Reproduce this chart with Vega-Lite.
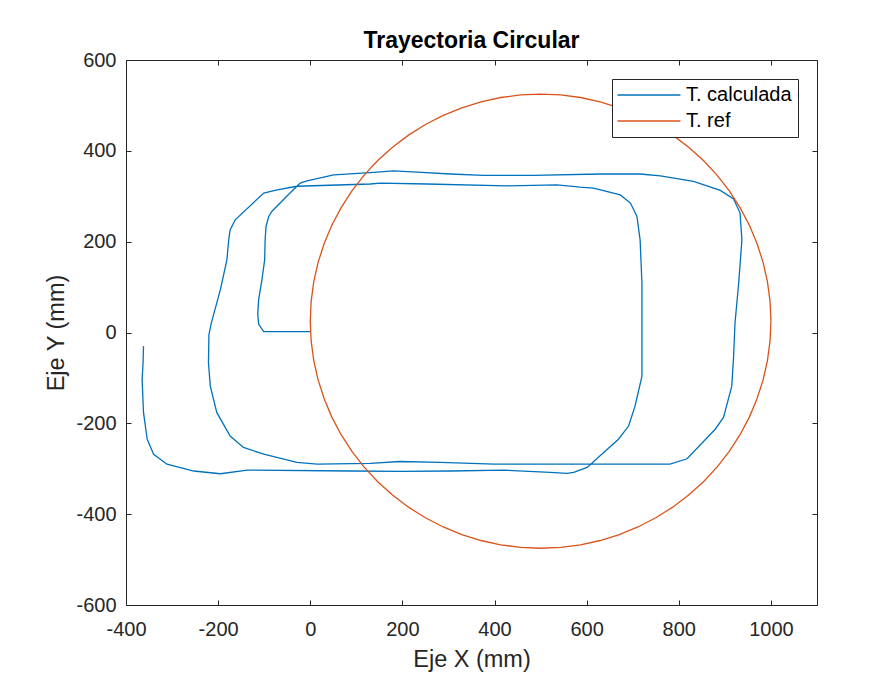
{
  "$schema": "https://vega.github.io/schema/vega-lite/v6.json",
  "width": 691,
  "height": 545,
  "autosize": {"type": "none"},
  "padding": {"left": 126, "top": 60, "right": 77, "bottom": 69},
  "background": "white",
  "title": {"text": "Trayectoria Circular", "fontSize": 23, "fontWeight": "bold", "color": "#000000", "offset": -3, "anchor": "middle", "font": "Liberation Sans"},
  "data": {"values": [
    {"s":"T. calculada","i":0,"x":0,"y":2},
    {"s":"T. calculada","i":1,"x":-101,"y":2},
    {"s":"T. calculada","i":2,"x":-112,"y":18},
    {"s":"T. calculada","i":3,"x":-114,"y":40},
    {"s":"T. calculada","i":4,"x":-112,"y":73},
    {"s":"T. calculada","i":5,"x":-105,"y":116},
    {"s":"T. calculada","i":6,"x":-99,"y":160},
    {"s":"T. calculada","i":7,"x":-98,"y":204},
    {"s":"T. calculada","i":8,"x":-96,"y":234},
    {"s":"T. calculada","i":9,"x":-90,"y":256},
    {"s":"T. calculada","i":10,"x":-83,"y":267},
    {"s":"T. calculada","i":11,"x":-51,"y":300},
    {"s":"T. calculada","i":12,"x":-22,"y":329},
    {"s":"T. calculada","i":13,"x":-7,"y":334},
    {"s":"T. calculada","i":14,"x":51,"y":347},
    {"s":"T. calculada","i":15,"x":130,"y":352},
    {"s":"T. calculada","i":16,"x":181,"y":356},
    {"s":"T. calculada","i":17,"x":232,"y":353},
    {"s":"T. calculada","i":18,"x":304,"y":349},
    {"s":"T. calculada","i":19,"x":376,"y":346},
    {"s":"T. calculada","i":20,"x":485,"y":346},
    {"s":"T. calculada","i":21,"x":629,"y":349},
    {"s":"T. calculada","i":22,"x":716,"y":349},
    {"s":"T. calculada","i":23,"x":760,"y":345},
    {"s":"T. calculada","i":24,"x":832,"y":333},
    {"s":"T. calculada","i":25,"x":890,"y":313},
    {"s":"T. calculada","i":26,"x":919,"y":294},
    {"s":"T. calculada","i":27,"x":933,"y":263},
    {"s":"T. calculada","i":28,"x":937,"y":204},
    {"s":"T. calculada","i":29,"x":930,"y":109},
    {"s":"T. calculada","i":30,"x":922,"y":21},
    {"s":"T. calculada","i":31,"x":919,"y":-52},
    {"s":"T. calculada","i":32,"x":915,"y":-118},
    {"s":"T. calculada","i":33,"x":897,"y":-187},
    {"s":"T. calculada","i":34,"x":879,"y":-213},
    {"s":"T. calculada","i":35,"x":818,"y":-278},
    {"s":"T. calculada","i":36,"x":781,"y":-290},
    {"s":"T. calculada","i":37,"x":543,"y":-290},
    {"s":"T. calculada","i":38,"x":400,"y":-290},
    {"s":"T. calculada","i":39,"x":282,"y":-286},
    {"s":"T. calculada","i":40,"x":195,"y":-284},
    {"s":"T. calculada","i":41,"x":130,"y":-288},
    {"s":"T. calculada","i":42,"x":15,"y":-290},
    {"s":"T. calculada","i":43,"x":-29,"y":-286},
    {"s":"T. calculada","i":44,"x":-101,"y":-268},
    {"s":"T. calculada","i":45,"x":-145,"y":-253},
    {"s":"T. calculada","i":46,"x":-174,"y":-228},
    {"s":"T. calculada","i":47,"x":-203,"y":-176},
    {"s":"T. calculada","i":48,"x":-217,"y":-118},
    {"s":"T. calculada","i":49,"x":-221,"y":-67},
    {"s":"T. calculada","i":50,"x":-220,"y":-5},
    {"s":"T. calculada","i":51,"x":-215,"y":20},
    {"s":"T. calculada","i":52,"x":-195,"y":95},
    {"s":"T. calculada","i":53,"x":-181,"y":160},
    {"s":"T. calculada","i":54,"x":-177,"y":204},
    {"s":"T. calculada","i":55,"x":-174,"y":226},
    {"s":"T. calculada","i":56,"x":-163,"y":248},
    {"s":"T. calculada","i":57,"x":-101,"y":307},
    {"s":"T. calculada","i":58,"x":-72,"y":314},
    {"s":"T. calculada","i":59,"x":-29,"y":322},
    {"s":"T. calculada","i":60,"x":130,"y":327},
    {"s":"T. calculada","i":61,"x":152,"y":329},
    {"s":"T. calculada","i":62,"x":253,"y":327},
    {"s":"T. calculada","i":63,"x":427,"y":323},
    {"s":"T. calculada","i":64,"x":535,"y":325},
    {"s":"T. calculada","i":65,"x":586,"y":320},
    {"s":"T. calculada","i":66,"x":615,"y":318},
    {"s":"T. calculada","i":67,"x":673,"y":303},
    {"s":"T. calculada","i":68,"x":695,"y":285},
    {"s":"T. calculada","i":69,"x":709,"y":256},
    {"s":"T. calculada","i":70,"x":716,"y":204},
    {"s":"T. calculada","i":71,"x":720,"y":109},
    {"s":"T. calculada","i":72,"x":720,"y":-37},
    {"s":"T. calculada","i":73,"x":720,"y":-96},
    {"s":"T. calculada","i":74,"x":705,"y":-162},
    {"s":"T. calculada","i":75,"x":691,"y":-206},
    {"s":"T. calculada","i":76,"x":669,"y":-235},
    {"s":"T. calculada","i":77,"x":637,"y":-264},
    {"s":"T. calculada","i":78,"x":601,"y":-297},
    {"s":"T. calculada","i":79,"x":572,"y":-308},
    {"s":"T. calculada","i":80,"x":557,"y":-310},
    {"s":"T. calculada","i":81,"x":521,"y":-308},
    {"s":"T. calculada","i":82,"x":420,"y":-303},
    {"s":"T. calculada","i":83,"x":304,"y":-305},
    {"s":"T. calculada","i":84,"x":195,"y":-306},
    {"s":"T. calculada","i":85,"x":87,"y":-305},
    {"s":"T. calculada","i":86,"x":-137,"y":-303},
    {"s":"T. calculada","i":87,"x":-195,"y":-311},
    {"s":"T. calculada","i":88,"x":-253,"y":-305},
    {"s":"T. calculada","i":89,"x":-311,"y":-290},
    {"s":"T. calculada","i":90,"x":-340,"y":-268},
    {"s":"T. calculada","i":91,"x":-354,"y":-235},
    {"s":"T. calculada","i":92,"x":-362,"y":-176},
    {"s":"T. calculada","i":93,"x":-365,"y":-103},
    {"s":"T. calculada","i":94,"x":-363,"y":-67},
    {"s":"T. calculada","i":95,"x":-362,"y":-30},
    {"s":"T. ref","i":0,"x":1000,"y":25},
    {"s":"T. ref","i":1,"x":998.1,"y":68.6},
    {"s":"T. ref","i":2,"x":992.4,"y":111.8},
    {"s":"T. ref","i":3,"x":983.0,"y":154.4},
    {"s":"T. ref","i":4,"x":969.8,"y":196.0},
    {"s":"T. ref","i":5,"x":953.2,"y":236.3},
    {"s":"T. ref","i":6,"x":933.0,"y":275.0},
    {"s":"T. ref","i":7,"x":909.6,"y":311.8},
    {"s":"T. ref","i":8,"x":883.0,"y":346.4},
    {"s":"T. ref","i":9,"x":853.6,"y":378.6},
    {"s":"T. ref","i":10,"x":821.4,"y":408.0},
    {"s":"T. ref","i":11,"x":786.8,"y":434.6},
    {"s":"T. ref","i":12,"x":750,"y":458.0},
    {"s":"T. ref","i":13,"x":711.3,"y":478.2},
    {"s":"T. ref","i":14,"x":671.0,"y":494.8},
    {"s":"T. ref","i":15,"x":629.4,"y":508.0},
    {"s":"T. ref","i":16,"x":586.8,"y":517.4},
    {"s":"T. ref","i":17,"x":543.6,"y":523.1},
    {"s":"T. ref","i":18,"x":500,"y":525},
    {"s":"T. ref","i":19,"x":456.4,"y":523.1},
    {"s":"T. ref","i":20,"x":413.2,"y":517.4},
    {"s":"T. ref","i":21,"x":370.6,"y":508.0},
    {"s":"T. ref","i":22,"x":329.0,"y":494.8},
    {"s":"T. ref","i":23,"x":288.7,"y":478.2},
    {"s":"T. ref","i":24,"x":250,"y":458.0},
    {"s":"T. ref","i":25,"x":213.2,"y":434.6},
    {"s":"T. ref","i":26,"x":178.6,"y":408.0},
    {"s":"T. ref","i":27,"x":146.4,"y":378.6},
    {"s":"T. ref","i":28,"x":117.0,"y":346.4},
    {"s":"T. ref","i":29,"x":90.4,"y":311.8},
    {"s":"T. ref","i":30,"x":67.0,"y":275.0},
    {"s":"T. ref","i":31,"x":46.8,"y":236.3},
    {"s":"T. ref","i":32,"x":30.2,"y":196.0},
    {"s":"T. ref","i":33,"x":17.0,"y":154.4},
    {"s":"T. ref","i":34,"x":7.6,"y":111.8},
    {"s":"T. ref","i":35,"x":1.9,"y":68.6},
    {"s":"T. ref","i":36,"x":0,"y":25},
    {"s":"T. ref","i":37,"x":1.9,"y":-18.6},
    {"s":"T. ref","i":38,"x":7.6,"y":-61.8},
    {"s":"T. ref","i":39,"x":17.0,"y":-104.4},
    {"s":"T. ref","i":40,"x":30.2,"y":-146.0},
    {"s":"T. ref","i":41,"x":46.8,"y":-186.3},
    {"s":"T. ref","i":42,"x":67.0,"y":-225.0},
    {"s":"T. ref","i":43,"x":90.4,"y":-261.8},
    {"s":"T. ref","i":44,"x":117.0,"y":-296.4},
    {"s":"T. ref","i":45,"x":146.4,"y":-328.6},
    {"s":"T. ref","i":46,"x":178.6,"y":-358.0},
    {"s":"T. ref","i":47,"x":213.2,"y":-384.6},
    {"s":"T. ref","i":48,"x":250,"y":-408.0},
    {"s":"T. ref","i":49,"x":288.7,"y":-428.2},
    {"s":"T. ref","i":50,"x":329.0,"y":-444.8},
    {"s":"T. ref","i":51,"x":370.6,"y":-458.0},
    {"s":"T. ref","i":52,"x":413.2,"y":-467.4},
    {"s":"T. ref","i":53,"x":456.4,"y":-473.1},
    {"s":"T. ref","i":54,"x":500,"y":-475},
    {"s":"T. ref","i":55,"x":543.6,"y":-473.1},
    {"s":"T. ref","i":56,"x":586.8,"y":-467.4},
    {"s":"T. ref","i":57,"x":629.4,"y":-458.0},
    {"s":"T. ref","i":58,"x":671.0,"y":-444.8},
    {"s":"T. ref","i":59,"x":711.3,"y":-428.2},
    {"s":"T. ref","i":60,"x":750,"y":-408.0},
    {"s":"T. ref","i":61,"x":786.8,"y":-384.6},
    {"s":"T. ref","i":62,"x":821.4,"y":-358.0},
    {"s":"T. ref","i":63,"x":853.6,"y":-328.6},
    {"s":"T. ref","i":64,"x":883.0,"y":-296.4},
    {"s":"T. ref","i":65,"x":909.6,"y":-261.8},
    {"s":"T. ref","i":66,"x":933.0,"y":-225.0},
    {"s":"T. ref","i":67,"x":953.2,"y":-186.3},
    {"s":"T. ref","i":68,"x":969.8,"y":-146.0},
    {"s":"T. ref","i":69,"x":983.0,"y":-104.4},
    {"s":"T. ref","i":70,"x":992.4,"y":-61.8},
    {"s":"T. ref","i":71,"x":998.1,"y":-18.6},
    {"s":"T. ref","i":72,"x":1000,"y":25}
  ]},
  "layer": [
    {
      "mark": {"type": "line", "strokeWidth": 1.3, "clip": true},
      "encoding": {
        "x": {"field": "x", "type": "quantitative",
          "scale": {"domain": [-400, 1100], "nice": false, "zero": false},
          "axis": {"orient": "bottom", "values": [-400,-200,0,200,400,600,800,1000], "labelExpr": "'' + datum.value", "title": "Eje X (mm)", "offset": -5, "tickSize": 5, "domain": false, "labelPadding": 14, "titlePadding": 8}},
        "y": {"field": "y", "type": "quantitative",
          "scale": {"domain": [-600, 600], "nice": false, "zero": false},
          "axis": {"orient": "left", "values": [-600,-400,-200,0,200,400,600], "labelExpr": "'' + datum.value", "title": "Eje Y (mm)", "offset": -5, "tickSize": 5, "domain": false, "labelPadding": 10, "titlePadding": 7}},
        "order": {"field": "i", "type": "quantitative"},
        "color": {"field": "s", "type": "nominal",
          "scale": {"domain": ["T. calculada", "T. ref"], "range": ["#0072BD", "#D95319"]},
          "legend": {"title": null, "orient": "top-right", "offset": 19, "strokeColor": "#262626", "fillColor": "white", "padding": 6, "symbolType": "M-2,0H10", "symbolSize": 110, "symbolStrokeWidth": 1.3, "labelOffset": 48, "labelFontSize": 20, "labelColor": "#000000", "rowPadding": 6, "labelFont": "Liberation Sans"}}
      }
    },
    {
      "mark": {"type": "line", "strokeOpacity": 0},
      "encoding": {
        "x": {"field": "x", "type": "quantitative",
          "scale": {"domain": [-400, 1100], "nice": false, "zero": false},
          "axis": {"orient": "top", "values": [-400,-200,0,200,400,600,800,1000], "title": null, "labels": false, "offset": -5, "tickSize": 5, "domain": false}},
        "y": {"field": "y", "type": "quantitative",
          "scale": {"domain": [-600, 600], "nice": false, "zero": false},
          "axis": {"orient": "right", "values": [-600,-400,-200,0,200,400,600], "title": null, "labels": false, "offset": -5, "tickSize": 5, "domain": false}},
        "detail": {"field": "s"},
        "order": {"field": "i", "type": "quantitative"}
      }
    }
  ],
  "resolve": {"axis": {"x": "independent", "y": "independent"}},
  "config": {
    "view": {"stroke": "#262626", "strokeWidth": 1},
    "font": "Liberation Sans",
    "axis": {"grid": false, "tickColor": "#262626", "tickWidth": 1, "labelColor": "#262626", "labelFontSize": 20, "labelFont": "Liberation Sans", "titleFont": "Liberation Sans", "titleFontSize": 23.5, "titleFontWeight": "normal", "titleColor": "#262626", "labelFlush": false, "labelOverlap": false}
  }
}
